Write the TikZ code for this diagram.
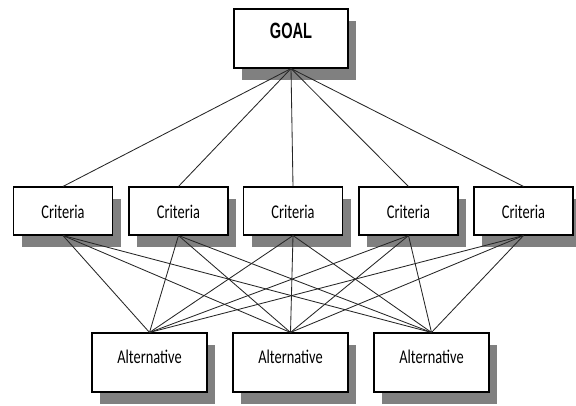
\documentclass[tikz,border=0pt]{standalone}
\usepackage{fontspec}
\setmainfont{Carlito}
\newfontfamily\goalfont{Liberation Sans}
\usetikzlibrary{shadows}
\tikzset{
  box/.style={draw=black, line width=1.1pt, fill=white,
    drop shadow={shadow xshift=8pt, shadow yshift=-12pt, fill=black!50, opacity=1}},
  link/.style={draw=black!85, line width=0.85pt},
  lbl/.style={inner sep=0pt, font=\fontsize{14.4}{16}\selectfont},
}
\begin{document}
\begin{tikzpicture}[x=1pt,y=-1pt]
  \useasboundingbox (0,0) rectangle (576,405);
  % top level
  \node[box, minimum width=114pt, minimum height=59pt] (goal) at (291,38.5) {};
  % criteria row
  \foreach \i/\x in {1/63,2/178.5,3/293,4/408.5,5/523.5}
    \node[box, minimum width=99pt, minimum height=48pt] (c\i) at (\x,211) {};
  % alternatives row
  \foreach \j/\x in {1/149.5,2/290.5,3/431.5}
    \node[box, minimum width=115pt, minimum height=59pt] (a\j) at (\x,362.5) {};
  % connectors: goal to every criterion, every criterion to every alternative
  \foreach \i in {1,...,5} {
    \draw[link] (goal.south) -- (c\i.north);
    \foreach \j in {1,2,3}
      \draw[link] (c\i.south) -- (a\j.north);
  }
  % labels
  \node[lbl] (goaltext) at ([yshift=7.5pt]goal.center)
    {\goalfont\bfseries\fontsize{17}{19}\selectfont\scalebox{0.86}[1.3]{GOAL}};
  \foreach \i in {1,...,5}
    \node[lbl] (ct\i) at ([yshift=-0.7pt]c\i.center) {\scalebox{1}[1.35]{Criteria}};
  \foreach \j in {1,2,3}
    \node[lbl] (at\j) at ([yshift=6pt]a\j.center) {\scalebox{1}[1.35]{Alternative}};
\end{tikzpicture}
\end{document}
